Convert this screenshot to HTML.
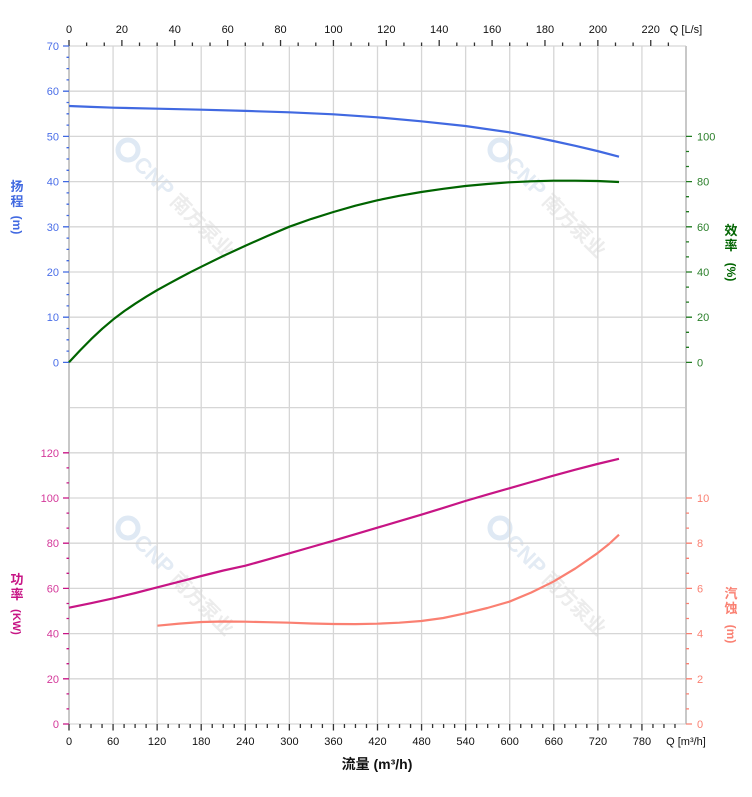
<!DOCTYPE html>
<html><head><meta charset="utf-8"><style>
html,body{margin:0;padding:0;background:#fff;}
svg{display:block;}
text{font-family:"Liberation Sans","Noto Sans CJK SC",sans-serif;}
</style></head><body>
<svg width="752" height="797" viewBox="0 0 752 797" xmlns="http://www.w3.org/2000/svg">
<!-- watermarks -->
<g opacity="1">
<g transform="translate(128,150) rotate(45)">
<circle cx="0" cy="0" r="10" fill="none" stroke="#dfe9f4" stroke-width="5"/>
<text x="14" y="8" font-size="22" font-weight="bold" fill="#e3ebf4">CNP</text>
<text x="66" y="8" font-size="20" font-weight="bold" fill="#ececec">南方泵业</text>
</g>
<g transform="translate(500,150) rotate(45)">
<circle cx="0" cy="0" r="10" fill="none" stroke="#dfe9f4" stroke-width="5"/>
<text x="14" y="8" font-size="22" font-weight="bold" fill="#e3ebf4">CNP</text>
<text x="66" y="8" font-size="20" font-weight="bold" fill="#ececec">南方泵业</text>
</g>
<g transform="translate(128,528) rotate(45)">
<circle cx="0" cy="0" r="10" fill="none" stroke="#dfe9f4" stroke-width="5"/>
<text x="14" y="8" font-size="22" font-weight="bold" fill="#e3ebf4">CNP</text>
<text x="66" y="8" font-size="20" font-weight="bold" fill="#ececec">南方泵业</text>
</g>
<g transform="translate(500,528) rotate(45)">
<circle cx="0" cy="0" r="10" fill="none" stroke="#dfe9f4" stroke-width="5"/>
<text x="14" y="8" font-size="22" font-weight="bold" fill="#e3ebf4">CNP</text>
<text x="66" y="8" font-size="20" font-weight="bold" fill="#ececec">南方泵业</text>
</g>
</g>

<!-- grid -->
<g stroke="#d6d6d6" stroke-width="1.3" fill="none">
<path d="M69 46H686M69 91.2H686M69 136.4H686M69 181.6H686M69 226.8H686M69 272H686M69 317.2H686M69 362.4H686M69 407.6H686M69 452.8H686M69 498H686M69 543.2H686M69 588.4H686M69 633.6H686M69 678.8H686M69 724H686"/>
<path d="M113.07 46V724M157.14 46V724M201.21 46V724M245.28 46V724M289.36 46V724M333.43 46V724M377.5 46V724M421.57 46V724M465.64 46V724M509.71 46V724M553.78 46V724M597.86 46V724M641.93 46V724"/>
</g>
<g stroke="#c8c8c8" stroke-width="2" fill="none">
<path d="M69 46V724M686 46V724"/>
</g>

<!-- top axis ticks -->
<g stroke="#333" stroke-width="1.3">
<path d="M69 40V46M121.89 40V46M174.77 40V46M227.66 40V46M280.54 40V46M333.43 40V46M386.31 40V46M439.2 40V46M492.09 40V46M544.97 40V46M597.86 40V46M650.74 40V46"/>
<path d="M86.63 42.5V46M104.26 42.5V46M139.52 42.5V46M157.14 42.5V46M192.4 42.5V46M210.03 42.5V46M245.29 42.5V46M262.91 42.5V46M298.17 42.5V46M315.8 42.5V46M351.06 42.5V46M368.69 42.5V46M403.94 42.5V46M421.57 42.5V46M456.83 42.5V46M474.46 42.5V46M509.71 42.5V46M527.34 42.5V46M562.6 42.5V46M580.23 42.5V46M615.49 42.5V46M633.11 42.5V46M668.37 42.5V46"/>
</g>
<g font-size="11" fill="#111" text-anchor="middle">
<text x="69" y="33">0</text><text x="121.9" y="33">20</text><text x="174.8" y="33">40</text><text x="227.7" y="33">60</text><text x="280.5" y="33">80</text><text x="333.4" y="33">100</text><text x="386.3" y="33">120</text><text x="439.2" y="33">140</text><text x="492.1" y="33">160</text><text x="545" y="33">180</text><text x="597.9" y="33">200</text><text x="650.7" y="33">220</text>
<text x="686" y="33">Q [L/s]</text>
</g>

<!-- bottom axis ticks -->
<g stroke="#333" stroke-width="1.3">
<path d="M69 724V730.5M113.07 724V730.5M157.14 724V730.5M201.21 724V730.5M245.28 724V730.5M289.36 724V730.5M333.43 724V730.5M377.5 724V730.5M421.57 724V730.5M465.64 724V730.5M509.71 724V730.5M553.78 724V730.5M597.86 724V730.5M641.93 724V730.5"/>
<path d="M80.02 724V728M91.03 724V728M102.05 724V728M124.09 724V728M135.1 724V728M146.12 724V728M168.16 724V728M179.17 724V728M190.19 724V728M212.23 724V728M223.24 724V728M234.26 724V728M256.3 724V728M267.31 724V728M278.33 724V728M300.37 724V728M311.39 724V728M322.41 724V728M344.45 724V728M355.46 724V728M366.48 724V728M388.52 724V728M399.53 724V728M410.55 724V728M432.59 724V728M443.6 724V728M454.62 724V728M476.66 724V728M487.67 724V728M498.69 724V728M520.73 724V728M531.74 724V728M542.76 724V728M564.8 724V728M575.82 724V728M586.84 724V728M608.88 724V728M619.89 724V728M630.91 724V728M652.95 724V728M663.96 724V728M674.98 724V728"/>
</g>
<g font-size="11" fill="#111" text-anchor="middle">
<text x="69" y="745">0</text><text x="113.1" y="745">60</text><text x="157.1" y="745">120</text><text x="201.2" y="745">180</text><text x="245.3" y="745">240</text><text x="289.4" y="745">300</text><text x="333.4" y="745">360</text><text x="377.5" y="745">420</text><text x="421.6" y="745">480</text><text x="465.6" y="745">540</text><text x="509.7" y="745">600</text><text x="553.8" y="745">660</text><text x="597.9" y="745">720</text><text x="641.9" y="745">780</text>
<text x="686" y="745">Q [m³/h]</text>
</g>
<text x="377" y="769" font-size="14" font-weight="bold" fill="#111" text-anchor="middle">流量 (m³/h)</text>

<!-- head axis (left, blue) -->
<g stroke="#4169E1" stroke-width="1.3">
<path d="M63 46H69M63 91.2H69M63 136.4H69M63 181.6H69M63 226.8H69M63 272H69M63 317.2H69M63 362.4H69"/>
<path d="M66.5 57.3H69M66.5 68.6H69M66.5 79.9H69M66.5 102.5H69M66.5 113.8H69M66.5 125.1H69M66.5 147.7H69M66.5 159H69M66.5 170.3H69M66.5 192.9H69M66.5 204.2H69M66.5 215.5H69M66.5 238.1H69M66.5 249.4H69M66.5 260.7H69M66.5 283.3H69M66.5 294.6H69M66.5 305.9H69M66.5 328.5H69M66.5 339.8H69M66.5 351.1H69"/>
</g>
<g font-size="11" fill="#4a6ee8" text-anchor="end">
<text x="59" y="50">70</text><text x="59" y="95.2">60</text><text x="59" y="140.4">50</text><text x="59" y="185.6">40</text><text x="59" y="230.8">30</text><text x="59" y="276">20</text><text x="59" y="321.2">10</text><text x="59" y="366.4">0</text>
</g>
<g fill="#4169E1" font-size="13" font-weight="bold" text-anchor="middle">
<text x="17" y="191">扬</text><text x="17" y="206">程</text>
<text transform="translate(13,225) rotate(90)" font-size="12">(m)</text>
</g>

<!-- power axis (left, magenta) -->
<g stroke="#C71585" stroke-width="1.3">
<path d="M63 452.8H69M63 498H69M63 543.2H69M63 588.4H69M63 633.6H69M63 678.8H69M63 724H69"/>
<path d="M66.5 467.9H69M66.5 482.9H69M66.5 513.1H69M66.5 528.1H69M66.5 558.3H69M66.5 573.3H69M66.5 603.5H69M66.5 618.5H69M66.5 648.7H69M66.5 663.7H69M66.5 693.9H69M66.5 708.9H69"/>
</g>
<g font-size="11" fill="#d4389a" text-anchor="end">
<text x="59" y="456.8">120</text><text x="59" y="502">100</text><text x="59" y="547.2">80</text><text x="59" y="592.4">60</text><text x="59" y="637.6">40</text><text x="59" y="682.8">20</text><text x="59" y="728">0</text>
</g>
<g fill="#C71585" font-size="13" font-weight="bold" text-anchor="middle">
<text x="17" y="584">功</text><text x="17" y="599">率</text>
<text transform="translate(13,622) rotate(90)" font-size="11">(KW)</text>
</g>

<!-- efficiency axis (right, green) -->
<g stroke="#1f7a1f" stroke-width="1.3">
<path d="M686 136.4H692M686 181.6H692M686 226.8H692M686 272H692M686 317.2H692M686 362.4H692"/>
<path d="M686 151.5H689M686 166.5H689M686 196.7H689M686 211.7H689M686 241.9H689M686 256.9H689M686 287.1H689M686 302.1H689M686 332.3H689M686 347.3H689"/>
</g>
<g font-size="11" fill="#2a7f2a">
<text x="697" y="140.4">100</text><text x="697" y="185.6">80</text><text x="697" y="230.8">60</text><text x="697" y="276">40</text><text x="697" y="321.2">20</text><text x="697" y="366.4">0</text>
</g>
<g fill="#006400" font-size="13" font-weight="bold" text-anchor="middle">
<text x="731" y="235">效</text><text x="731" y="250">率</text>
<text transform="translate(727,272) rotate(90)" font-size="12">(%)</text>
</g>

<!-- NPSH axis (right, salmon) -->
<g stroke="#FA8072" stroke-width="1.3">
<path d="M686 498H692M686 543.2H692M686 588.4H692M686 633.6H692M686 678.8H692M686 724H692"/>
<path d="M686 513.1H689M686 528.1H689M686 558.3H689M686 573.3H689M686 603.5H689M686 618.5H689M686 648.7H689M686 663.7H689M686 693.9H689M686 708.9H689"/>
</g>
<g font-size="11" fill="#FA8072">
<text x="697" y="502">10</text><text x="697" y="547.2">8</text><text x="697" y="592.4">6</text><text x="697" y="637.6">4</text><text x="697" y="682.8">2</text><text x="697" y="728">0</text>
</g>
<g fill="#FA8072" font-size="13" font-weight="bold" text-anchor="middle">
<text x="731" y="598">汽</text><text x="731" y="613">蚀</text>
<text transform="translate(727,634) rotate(90)" font-size="12">(m)</text>
</g>

<!-- curves -->
<g fill="none" stroke-width="2.2" stroke-linejoin="round" stroke-linecap="butt">
<polyline stroke="#4169E1" points="69,106 91,106.9 113.4,107.7 157.4,108.7 201.4,109.7 245.4,110.9 289.4,112.3 333.4,114.3 377.3,117.3 421.3,121.3 465.3,126 509.3,132.3 531.3,136.4 553.3,141 575.3,145.8 597.3,151 619,156.7"/>
<polyline stroke="#006400" points="69,362.3 80.1,350.4 91.2,339.1 102.3,328.7 113.4,319.3 124.4,311 135.4,303.55 146.4,296.6 157.4,290 168.4,283.9 179.4,278 190.4,272.2 201.4,266.7 223.4,255.9 245.4,245.7 267.4,236 289.4,226.7 311.4,218.9 333.4,212 355.4,205.7 377.3,200.3 399.3,195.8 421.3,192 443.3,188.8 465.3,186 487.3,184 509.3,182.3 531.3,181.3 553.3,180.7 575.3,180.7 597.3,181 619,182"/>
<polyline stroke="#C71585" points="69,607.7 91,603.2 113.4,598.3 135.4,593 157.4,587.3 179.4,581.7 201.4,576 223.4,570.5 245.4,565.7 267.4,559.6 289.4,553.3 311.4,547 333.4,540.7 355.4,534.2 377.3,527.7 399.3,521.2 421.3,514.7 443.3,507.9 465.3,501 487.3,494.6 509.3,488.3 531.3,482 553.3,475.7 575.3,469.7 597.3,464 619,458.8"/>
<polyline stroke="#FA8072" points="157.4,625.7 179.4,623.6 201.4,622 223.4,621.5 245.4,621.7 267.4,622.2 289.4,622.7 311.4,623.5 333.4,624 355.4,624.1 377.3,623.7 399.3,622.7 421.3,621 443.3,618 465.3,613.3 487.3,608 509.3,601.7 531.3,592.5 553.3,581.7 575.3,568.5 597.3,553.3 609,544 619,534.7"/>
</g>
</svg>
</body></html>
